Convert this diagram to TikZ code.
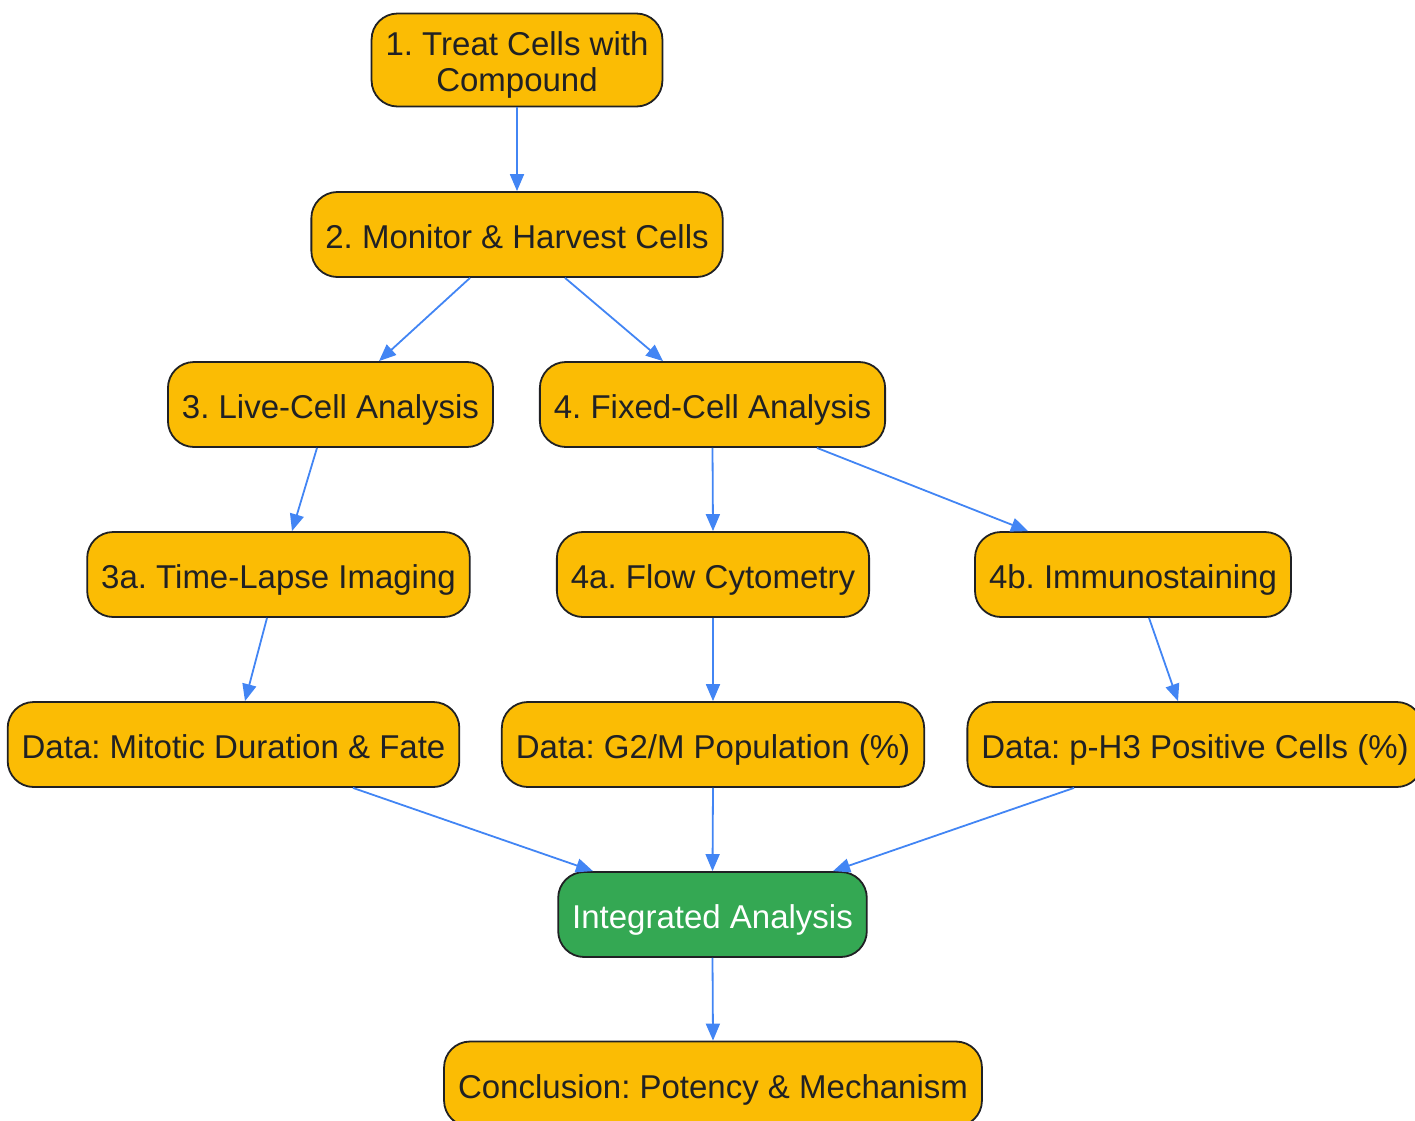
\documentclass[tikz,border=0pt]{standalone}
\usepackage{fontspec}
\setmainfont{Liberation Sans}
\frenchspacing
\usetikzlibrary{arrows.meta}
\definecolor{stepyellow}{HTML}{FBBC04}
\definecolor{stepgreen}{HTML}{34A853}
\definecolor{linkblue}{HTML}{4285F4}
\definecolor{inkdark}{HTML}{202124}
\tikzset{
    stepbox/.style={draw=inkdark, line width=1.8pt, fill=stepyellow, text=inkdark,
        rounded corners=26pt, minimum height=85pt, inner xsep=14pt, align=center,
        text height=28.6pt, text depth=0pt,
        font=\fontsize{33}{36}\selectfont},
    resultbox/.style={stepbox, fill=stepgreen, text=white},
    link/.style={draw=linkblue, line width=1.8pt, -{Triangle[length=17pt,width=14pt]}}
}
\begin{document}
\begin{tikzpicture}[x=1pt, y=-1pt]
            % the frame
            \useasboundingbox (0,0) rectangle (1415,1120);

            % the steps
            \node[stepbox, minimum height=93pt, text height=63.6pt] (treat) at (517,60) {1. Treat Cells with\\Compound};
            \node[stepbox] (harvest) at (517,234.5) {2. Monitor \& Harvest Cells};
            \node[stepbox] (live) at (330.5,404.5) {3. Live-Cell Analysis};
            \node[stepbox] (fixed) at (712.5,404.5) {4. Fixed-Cell Analysis};
            \node[stepbox] (timelapse) at (278.5,574.5) {3a. Time-Lapse Imaging};
            \node[stepbox] (flow) at (713,574.5) {4a. Flow Cytometry};
            \node[stepbox] (immuno) at (1133,574.5) {4b. Immunostaining};

            % the data
            \node[stepbox] (mitotic) at (233.5,744.5) {Data: Mitotic Duration \& Fate};
            \node[stepbox] (gtwom) at (713,744.5) {Data: G2/M Population (\%)};
            \node[stepbox] (phthree) at (1195,744.5) {Data: p-H3 Positive Cells (\%)};

            % the end
            \node[resultbox] (integrated) at (712.5,914.5) {Integrated Analysis};
            \node[stepbox] (conclusion) at (713,1084) {Conclusion: Potency \& Mechanism};

            % links
            \draw[link] (treat.south) -- (harvest.north);
            \draw[link] ([xshift=-47pt]harvest.south) -- ([xshift=48.5pt]live.north);
            \draw[link] ([xshift=48pt]harvest.south) -- ([xshift=-49.5pt]fixed.north);
            \draw[link] ([xshift=-13.5pt]live.south) -- ([xshift=13.5pt]timelapse.north);
            \draw[link] (fixed.south) -- (flow.north);
            \draw[link] ([xshift=104.5pt]fixed.south) -- ([xshift=-105pt]immuno.north);
            \draw[link] ([xshift=-11.5pt]timelapse.south) -- ([xshift=11.5pt]mitotic.north);
            \draw[link] (flow.south) -- (gtwom.north);
            \draw[link] ([xshift=16pt]immuno.south) -- ([xshift=-17pt]phthree.north);
            \draw[link] ([xshift=119.5pt]mitotic.south) -- ([xshift=-119.5pt]integrated.north);
            \draw[link] (gtwom.south) -- (integrated.north);
            \draw[link] ([xshift=-121pt]phthree.south) -- ([xshift=120.5pt]integrated.north);
            \draw[link] (integrated.south) -- (conclusion.north);
        \end{tikzpicture}
\end{document}
